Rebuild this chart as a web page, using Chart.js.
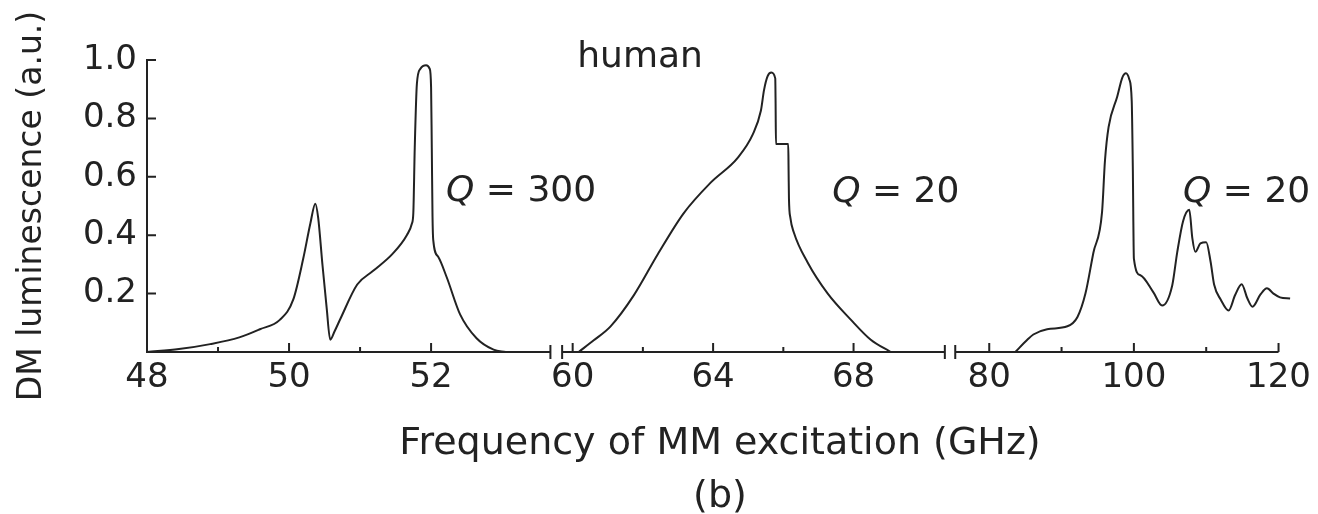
<!DOCTYPE html>
<html>
<head>
<meta charset="utf-8">
<script src="https://cdn.jsdelivr.net/npm/chart.js@4.4.0/dist/chart.umd.min.js"></script>
<style>
  html, body { margin: 0; padding: 0; background: #fff; }
  canvas { display: block; }
</style>
</head>
<body>
<canvas id="lumChart" width="1318" height="514"></canvas>
<script>
// ————— 0. Datos leídos de la figura —————
// Tramo 48–54 GHz (Q = 300)
const SEG1_FREQ = [48.0, 48.45, 48.89, 49.3, 49.59, 49.87, 50.06, 50.2, 50.3, 50.37, 50.41, 50.47, 50.53, 50.58, 50.64, 50.72, 50.96, 51.18, 51.46, 51.66, 51.73, 51.75, 51.77, 51.8, 51.85, 51.93, 51.98, 52.0, 52.01, 52.02, 52.03, 52.1, 52.22, 52.41, 52.64, 52.88, 53.05];
const SEG1_LUM  = [0.0, 0.01, 0.027, 0.05, 0.078, 0.11, 0.18, 0.32, 0.44, 0.508, 0.46, 0.30, 0.15, 0.042, 0.07, 0.112, 0.231, 0.277, 0.337, 0.401, 0.44, 0.477, 0.70, 0.918, 0.97, 0.982, 0.97, 0.906, 0.697, 0.465, 0.384, 0.326, 0.256, 0.128, 0.047, 0.008, 0.0];

// Tramo 60–70 GHz (Q = 20)
const SEG2_FREQ = [60.17, 60.6, 61.08, 61.74, 62.42, 63.16, 63.93, 64.7, 65.13, 65.36, 65.45, 65.55, 65.66, 65.77, 65.78, 65.79, 66.14, 66.15, 66.16, 66.2, 66.3, 66.7, 67.26, 67.92, 68.49, 69.06];
const SEG2_LUM  = [0.0, 0.04, 0.088, 0.194, 0.334, 0.475, 0.58, 0.665, 0.745, 0.826, 0.897, 0.944, 0.957, 0.937, 0.85, 0.712, 0.712, 0.62, 0.527, 0.46, 0.409, 0.305, 0.201, 0.111, 0.042, 0.0];

// Tramo 80–120 GHz (Q = 20)
const SEG3_FREQ = [83.6, 85.26, 86.1, 88.0, 90.8, 92.2, 93.3, 94.4, 95.6, 96.0, 96.5, 97.7, 98.4, 98.9, 99.35, 99.7, 99.85, 100.0, 100.9, 102.7, 103.9, 105.3, 106.0, 106.8, 107.66, 108.08, 108.5, 109.2, 110.0, 110.6, 111.1, 112.0, 113.1, 114.0, 114.9, 115.7, 116.4, 117.5, 118.4, 119.3, 120.2, 121.6];
const SEG3_LUM  = [0.0, 0.042, 0.06, 0.078, 0.088, 0.12, 0.2, 0.34, 0.48, 0.655, 0.77, 0.875, 0.94, 0.955, 0.935, 0.86, 0.635, 0.32, 0.263, 0.204, 0.159, 0.228, 0.343, 0.448, 0.487, 0.39, 0.343, 0.372, 0.376, 0.31, 0.23, 0.18, 0.142, 0.195, 0.232, 0.183, 0.155, 0.197, 0.218, 0.2, 0.187, 0.183];

// Ejes
const X_TICKS = [48, 50, 52, 60, 64, 68, 80, 100, 120];
const X_MINOR = [49, 51, 62, 66, 90, 110];
const Y_TICKS = [0.2, 0.4, 0.6, 0.8, 1.0];
const X_TITLE = 'Frequency of MM excitation (GHz)';
const Y_TITLE = 'DM luminescence (a.u.)';
const PANEL   = '(b)';

// ————— 1. Eje x partido: cada tramo tiene su propia escala —————
const X_SEGMENTS = [
  { lo: 48,   hi: 53.68, start: 0,   perGHz: 71 },
  { lo: 59.7, hi: 70.6,  start: 415, perGHz: 35.1 },
  { lo: 75.3, hi: 120,   start: 808, perGHz: 7.23 }
];
const toU = f => {
  const s = X_SEGMENTS.find(seg => f <= seg.hi) || X_SEGMENTS[X_SEGMENTS.length - 1];
  return s.start + (f - s.lo) * s.perGHz;
};
const toPoints = (freqs, lums) => freqs.map((f, i) => ({ x: toU(f), y: lums[i] }));

// ————— 2. Estilo —————
const INK  = '#222';
const FONT = '"DejaVu Sans", "Liberation Sans", sans-serif';

const NOTES = [
  { f: 61.92, v: 0.977, text: 'human', align: 'center' },
  { f: 52.21, v: 0.517, q: 'Q', text: ' = 300', align: 'left' },
  { f: 67.39, v: 0.515, q: 'Q', text: ' = 20',  align: 'left' },
  { f: 106.8, v: 0.512, q: 'Q', text: ' = 20',  align: 'left' }
];

// ————— 3. Plugins: ejes con cortes y anotaciones —————
const brokenAxis = {
  id: 'brokenAxis',
  afterDatasetsDraw(chart) {
    const { ctx, scales: { x, y } } = chart;
    const y0 = y.getPixelForValue(0);
    const px = f => x.getPixelForValue(toU(f));
    ctx.save();
    ctx.strokeStyle = INK;
    ctx.lineWidth = 2;
    ctx.beginPath();
    // eje y
    const x0 = px(X_SEGMENTS[0].lo);
    ctx.moveTo(x0, y0 + 1);
    ctx.lineTo(x0, y.getPixelForValue(1) - 1);
    Y_TICKS.forEach(v => {
      const py = y.getPixelForValue(v);
      ctx.moveTo(x0, py);
      ctx.lineTo(x0 + 9, py);
    });
    // eje x por tramos, con las marcas de corte
    X_SEGMENTS.forEach((s, i) => {
      const a = px(s.lo), b = px(s.hi);
      ctx.moveTo(a, y0);
      ctx.lineTo(b, y0);
      if (i > 0) { ctx.moveTo(a, y0 - 7); ctx.lineTo(a, y0 + 7); }
      if (i < X_SEGMENTS.length - 1) { ctx.moveTo(b, y0 - 7); ctx.lineTo(b, y0 + 7); }
    });
    X_TICKS.forEach(f => { const p = px(f); ctx.moveTo(p, y0); ctx.lineTo(p, y0 - 9); });
    X_MINOR.forEach(f => { const p = px(f); ctx.moveTo(p, y0); ctx.lineTo(p, y0 - 5); });
    ctx.stroke();
    ctx.restore();
  }
};

const notes = {
  id: 'notes',
  afterDraw(chart) {
    const { ctx, scales: { x, y } } = chart;
    ctx.save();
    ctx.fillStyle = INK;
    ctx.textBaseline = 'alphabetic';
    NOTES.forEach(n => {
      let px = x.getPixelForValue(toU(n.f));
      const py = y.getPixelForValue(n.v);
      ctx.font = `36px ${FONT}`;
      if (n.align === 'center') {
        ctx.textAlign = 'center';
        ctx.fillText(n.text, px, py);
        return;
      }
      ctx.textAlign = 'left';
      if (n.q) {
        ctx.font = `italic 36px ${FONT}`;
        ctx.fillText(n.q, px, py);
        px += ctx.measureText(n.q).width;
        ctx.font = `36px ${FONT}`;
      }
      ctx.fillText(n.text, px, py);
    });
    ctx.restore();
  }
};

// ————— 4. Gráfica —————
const lineStyle = {
  borderColor: INK,
  borderWidth: 2,
  pointRadius: 0,
  fill: false,
  cubicInterpolationMode: 'monotone'
};

const ctx = document.getElementById('lumChart').getContext('2d');
const lumChart = new Chart(ctx, {
  type: 'line',
  data: {
    datasets: [
      { label: '48–54 GHz',  data: toPoints(SEG1_FREQ, SEG1_LUM), ...lineStyle },
      { label: '60–70 GHz',  data: toPoints(SEG2_FREQ, SEG2_LUM), ...lineStyle },
      { label: '80–120 GHz', data: toPoints(SEG3_FREQ, SEG3_LUM), ...lineStyle }
    ]
  },
  options: {
    responsive: false,
    animation: false,
    devicePixelRatio: 1,
    layout: { padding: { top: 60, right: 25, bottom: 0, left: 0 } },
    plugins: {
      legend: { display: false },
      tooltip: { enabled: false }
    },
    scales: {
      x: {
        type: 'linear',
        min: 0,
        max: toU(122),
        grid: { display: false, drawTicks: false },
        border: { display: false },
        afterBuildTicks: s => { s.ticks = X_TICKS.map(f => ({ value: toU(f) })); },
        afterFit: s => { s.height = 162; },
        ticks: {
          autoSkip: false,
          maxRotation: 0,
          padding: 6,
          color: INK,
          font: { family: FONT, size: 34 },
          callback: (v, i) => X_TICKS[i]
        },
        title: {
          display: true,
          text: [X_TITLE, PANEL],
          color: INK,
          font: { family: FONT, size: 38, lineHeight: 1.4 },
          padding: { top: 0, bottom: -10 }
        }
      },
      y: {
        min: 0,
        max: 1,
        grid: { display: false, drawTicks: false },
        border: { display: false },
        afterBuildTicks: s => { s.ticks = Y_TICKS.map(v => ({ value: v })); },
        afterFit: s => { s.width = 147; },
        ticks: {
          padding: 10,
          color: INK,
          font: { family: FONT, size: 34 },
          callback: v => v.toFixed(1)
        },
        title: {
          display: true,
          text: Y_TITLE,
          color: INK,
          font: { family: FONT, size: 33, lineHeight: 1.2 },
          padding: { top: 13, bottom: 0 }
        }
      }
    }
  },
  plugins: [brokenAxis, notes]
});
</script>
</body>
</html>
